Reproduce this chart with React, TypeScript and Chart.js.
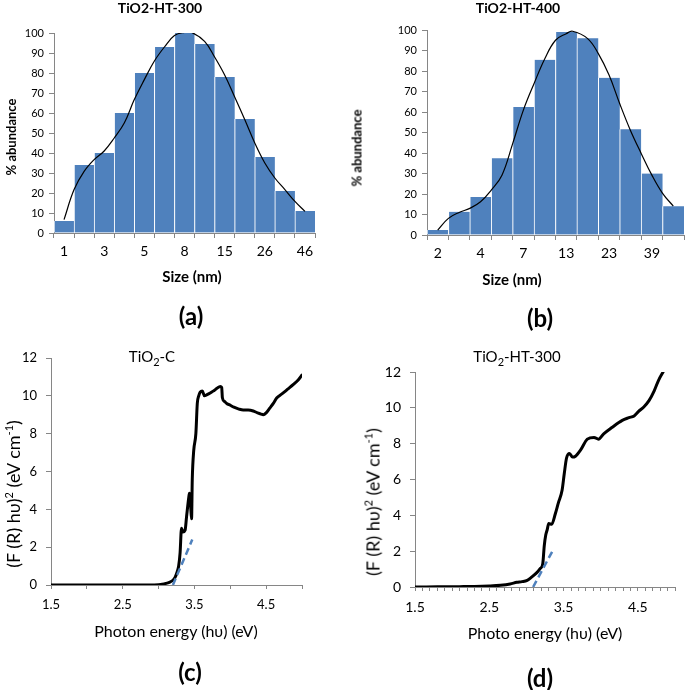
import React, { useEffect, useRef } from 'react';
import { Chart, registerables } from 'chart.js';

Chart.register(...registerables);

const FONT = 'Lato, "Open Sans", sans-serif';
const AXIS = '#868686';
const BAR = '#4F81BD';

// (a) TiO2-HT-300 size histogram
const sizeTicksA = ['1', '', '3', '', '5', '', '8', '', '15', '', '26', '', '46'];
const abundanceA = [6, 34, 40, 60, 80, 93, 100, 94.5, 78, 57, 38, 21, 11];
const fitPosA = [0, 0.5, 1, 1.5, 2, 2.5, 3, 3.5, 4, 4.5, 5, 5.5, 6, 6.35, 7, 7.5, 8, 8.5, 9, 9.5, 10, 10.5, 11, 11.5, 12];
const fitValA = [6.7, 21.7, 30.8, 36.7, 41, 47.5, 55, 66.7, 76.7, 86, 93, 98.7, 100.3, 100.3, 95.8, 88, 79, 68, 56.7, 45, 35, 27.5, 21.7, 15.8, 10.8];

// (b) TiO2-HT-400 size histogram
const sizeTicksB = ['2', '', '4', '', '7', '', '13', '', '23', '', '39', ''];
const abundanceB = [2.5, 11.3, 18.5, 37.5, 62.5, 85.5, 99, 96, 76.7, 51.6, 30, 14];
const fitPosB = [0, 0.5, 1, 1.5, 2, 2.5, 3, 3.5, 4, 4.5, 5, 5.5, 6, 6.3, 7, 7.5, 8, 8.5, 9, 9.5, 10, 10.5, 11];
const fitValB = [2.4, 8.1, 11, 13, 16.2, 21.9, 29.2, 44.6, 60.9, 73.9, 86, 95, 98.2, 99.4, 95.8, 88.5, 78, 64, 51, 39.8, 29.2, 20.3, 14.1];

// (c) TiO2-C Kubelka-Munk
const energyC = [1.5, 2.0, 2.5, 2.9, 3.0, 3.05, 3.1, 3.15, 3.2, 3.23, 3.26, 3.28, 3.3, 3.32, 3.34, 3.37, 3.39, 3.42, 3.43, 3.45, 3.46, 3.47, 3.49, 3.52, 3.54, 3.56, 3.58, 3.61, 3.64, 3.67, 3.72, 3.78, 3.86, 3.88, 3.89, 3.92, 3.95, 4.0, 4.05, 4.12, 4.18, 4.25, 4.32, 4.38, 4.42, 4.46, 4.5, 4.55, 4.6, 4.65, 4.72, 4.8, 4.88, 4.95, 5.0];
const kmC = [0, 0, 0, 0, 0.02, 0.04, 0.08, 0.14, 0.25, 0.4, 0.7, 1.0, 1.7, 3.0, 2.8, 2.9, 3.6, 4.6, 4.85, 4.0, 3.5, 5.6, 7.1, 8.0, 9.6, 10.0, 10.2, 10.25, 10.0, 10.05, 10.15, 10.3, 10.5, 10.45, 9.9, 9.7, 9.6, 9.5, 9.4, 9.3, 9.25, 9.25, 9.2, 9.1, 9.05, 9.0, 9.1, 9.35, 9.6, 9.9, 10.1, 10.35, 10.6, 10.85, 11.1];
const tangentXC = [3.2, 3.47];
const tangentYC = [0, 2.4];

// (d) TiO2-HT-300 Kubelka-Munk
const energyD = [1.5, 1.8, 2.1, 2.3, 2.5, 2.65, 2.78, 2.87, 2.94, 3.01, 3.07, 3.14, 3.19, 3.22, 3.24, 3.26, 3.28, 3.3, 3.34, 3.39, 3.43, 3.48, 3.51, 3.54, 3.58, 3.62, 3.66, 3.73, 3.82, 3.91, 3.97, 4.04, 4.15, 4.29, 4.38, 4.45, 4.51, 4.58, 4.65, 4.72, 4.78, 4.84];
const kmD = [0, 0.01, 0.02, 0.03, 0.06, 0.1, 0.17, 0.26, 0.3, 0.37, 0.55, 0.8, 1.05, 1.3, 2.3, 2.9, 3.2, 3.55, 3.5, 4.1, 4.7, 5.4, 6.35, 7.2, 7.45, 7.25, 7.3, 7.65, 8.25, 8.35, 8.25, 8.55, 8.9, 9.3, 9.45, 9.55, 9.8, 10.05, 10.4, 10.95, 11.55, 12.0];
const tangentXD = [3.09, 3.35];
const tangentYD = [0, 2.0];

const energyMin = 1.5;
const energyMax = 5.0;
const kmMax = 12;

type Box = { yW: number; xH: number; top: number; right: number };

function pts(xs: number[], ys: number[]) {
  return xs.map((x, i) => ({ x, y: ys[i] }));
}

function histConfig(labels: string[], values: number[], fx: number[], fy: number[], b: Box): any {
  const n = labels.length;
  return {
    type: 'bar',
    data: {
      datasets: [
        {
          type: 'line',
          data: pts(fx, fy),
          borderColor: '#000',
          borderWidth: 1.2,
          pointRadius: 0,
          tension: 0.4,
          fill: false,
        },
        {
          type: 'bar',
          data: values.map((v, i) => ({ x: i, y: v })),
          backgroundColor: BAR,
          borderColor: '#ffffff',
          borderWidth: { left: 1, right: 0, top: 0, bottom: 0 },
          borderSkipped: false,
          barPercentage: 1,
          categoryPercentage: 1,
        },
      ],
    },
    options: {
      responsive: false,
      animation: false,
      layout: { padding: { top: b.top, right: b.right, left: 0, bottom: 0 } },
      plugins: { legend: { display: false }, tooltip: { enabled: false }, title: { display: false } },
      scales: {
        x: {
          type: 'linear',
          min: -0.5,
          max: n - 0.5,
          offset: false,
          afterBuildTicks: (s: any) => {
            s.ticks = labels.map((_, i) => ({ value: i }));
          },
          grid: { offset: true, drawOnChartArea: false, drawTicks: true, tickLength: 5, color: AXIS },
          border: { color: AXIS, width: 1 },
          ticks: {
            autoSkip: false,
            maxRotation: 0,
            color: '#000',
            font: { family: FONT, size: 14 },
            padding: 5,
            callback: (v: number) => labels[Math.round(v)] ?? '',
          },
          afterFit: (s: any) => { s.height = b.xH; },
        },
        y: {
          min: 0,
          max: 100,
          ticks: { stepSize: 10, color: '#000', font: { family: FONT, size: 11 }, padding: 5 },
          grid: { drawOnChartArea: false, drawTicks: true, tickLength: 5, color: AXIS },
          border: { color: AXIS, width: 1 },
          afterFit: (s: any) => { s.width = b.yW; },
        },
      },
    },
  };
}

function kmConfig(ex: number[], ky: number[], tx: number[], ty: number[], step: number, tickSize: number, b: Box): any {
  return {
    type: 'scatter',
    data: {
      datasets: [
        {
          data: pts(tx, ty),
          showLine: true,
          borderColor: BAR,
          borderWidth: 2.5,
          borderDash: [7, 4],
          pointRadius: 0,
        },
        {
          data: pts(ex, ky),
          showLine: true,
          borderColor: '#000',
          borderWidth: 3,
          pointRadius: 0,
          cubicInterpolationMode: 'monotone',
          borderJoinStyle: 'round',
          borderCapStyle: 'round',
        },
      ],
    },
    options: {
      responsive: false,
      animation: false,
      layout: { padding: { top: b.top, right: b.right, left: 0, bottom: 0 } },
      plugins: { legend: { display: false }, tooltip: { enabled: false } },
      scales: {
        x: {
          type: 'linear',
          min: energyMin,
          max: energyMax,
          grid: { drawOnChartArea: false, drawTicks: true, tickLength: 4, color: AXIS },
          border: { color: AXIS, width: 1 },
          ticks: {
            stepSize: step,
            autoSkip: false,
            maxRotation: 0,
            color: '#000',
            font: { family: FONT, size: tickSize },
            padding: 8,
            callback: (v: number) => {
              const k = Math.round((v - energyMin) * 10);
              return k % 10 === 0 ? v.toFixed(1) : '';
            },
          },
          afterFit: (s: any) => { s.height = b.xH; },
        },
        y: {
          min: 0,
          max: kmMax,
          ticks: { stepSize: 2, color: '#000', font: { family: FONT, size: tickSize }, padding: 9 },
          grid: { drawOnChartArea: false, drawTicks: true, tickLength: 5, color: AXIS },
          border: { color: AXIS, width: 1 },
          afterFit: (s: any) => { s.width = b.yW; },
        },
      },
    },
  };
}

function ChartCanvas(props: { left: number; top: number; width: number; height: number; make: () => any }) {
  const ref = useRef<HTMLCanvasElement>(null);
  useEffect(() => {
    const chart = new Chart(ref.current as HTMLCanvasElement, props.make());
    return () => chart.destroy();
  }, []);
  return (
    <canvas
      ref={ref}
      width={props.width}
      height={props.height}
      style={{ position: 'absolute', left: props.left, top: props.top, width: props.width, height: props.height }}
    />
  );
}

function Txt(props: { x: number; y: number; size: number; bold?: boolean; rotate?: boolean; children: any }) {
  return (
    <div
      style={{
        position: 'absolute',
        left: props.x,
        top: props.y,
        transform: `translate(-50%, -50%)${props.rotate ? ' rotate(-90deg)' : ''}`,
        fontFamily: FONT,
        fontSize: props.size,
        fontWeight: props.bold ? 700 : 400,
        color: '#000',
        whiteSpace: 'nowrap',
        lineHeight: 1,
      }}
    >
      {props.children}
    </div>
  );
}

const supStyle = { fontSize: 11 };

export default function App() {
  return (
    <div style={{ position: 'absolute', left: 0, top: 0, width: 685, height: 690, background: '#fff', overflow: 'hidden' }}>
      <ChartCanvas left={0} top={0} width={330} height={270}
        make={() => histConfig(sizeTicksA, abundanceA, fitPosA, fitValA, { yW: 54, xH: 37, top: 33, right: 15 })} />
      <ChartCanvas left={345} top={0} width={340} height={270}
        make={() => histConfig(sizeTicksB, abundanceB, fitPosB, fitValB, { yW: 82, xH: 35, top: 30, right: 1 })} />
      <ChartCanvas left={0} top={340} width={330} height={290}
        make={() => kmConfig(energyC, kmC, tangentXC, tangentYC, 0.5, 13, { yW: 51, xH: 45, top: 18, right: 28 })} />
      <ChartCanvas left={340} top={340} width={345} height={290}
        make={() => kmConfig(energyD, kmD, tangentXD, tangentYD, 0.1, 14, { yW: 75, xH: 43, top: 32, right: 10 })} />

      <Txt x={160} y={8} size={14} bold>TiO2-HT-300</Txt>
      <Txt x={11} y={137} size={13} bold rotate>% abundance</Txt>
      <Txt x={192} y={276} size={15} bold>Size (nm)</Txt>
      <Txt x={191} y={316} size={24} bold>(a)</Txt>

      <Txt x={518} y={8} size={14} bold>TiO2-HT-400</Txt>
      <Txt x={357} y={148} size={13} bold rotate>% abundance</Txt>
      <Txt x={512} y={279} size={15} bold>Size (nm)</Txt>
      <Txt x={540} y={318} size={24} bold>(b)</Txt>

      <Txt x={152} y={358} size={15}>TiO<sub style={supStyle}>2</sub>-C</Txt>
      <Txt x={12} y={494} size={18} rotate>(F (R) hυ)<sup style={supStyle}>2</sup> (eV cm<sup style={supStyle}>-1</sup>)</Txt>
      <Txt x={176} y={631} size={16}>Photon energy (hυ) (eV)</Txt>
      <Txt x={190} y={672} size={24} bold>(c)</Txt>

      <Txt x={517} y={358} size={15}>TiO<sub style={supStyle}>2</sub>-HT-300</Txt>
      <Txt x={372} y={502} size={18} rotate>(F (R) hυ)<sup style={supStyle}>2</sup> (eV cm<sup style={supStyle}>-1</sup>)</Txt>
      <Txt x={545} y={633} size={16}>Photo energy (hυ) (eV)</Txt>
      <Txt x={540} y={678} size={24} bold>(d)</Txt>
    </div>
  );
}
